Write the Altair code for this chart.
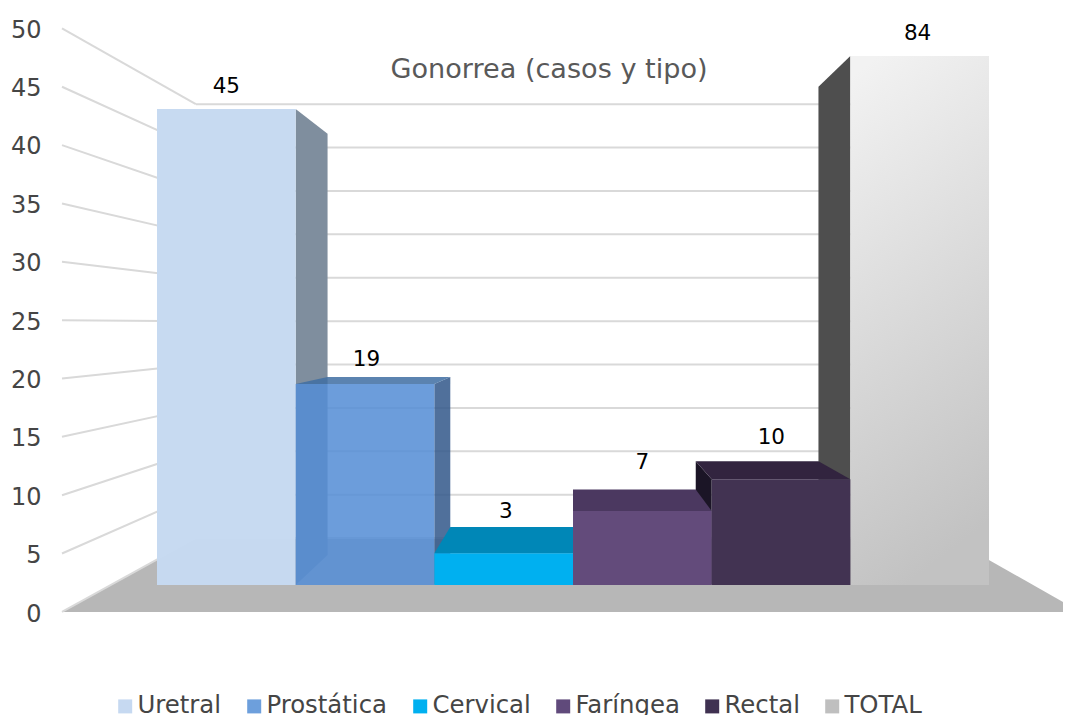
import altair as alt
import pandas as pd

# ---- data ----
categories = ["Uretral", "Prostática", "Cervical", "Faríngea", "Rectal", "TOTAL"]
values = [45, 19, 3, 7, 10, 84]
axis_ticks = [0, 5, 10, 15, 20, 25, 30, 35, 40, 45, 50]

# ---- styles ----
front_colors = ["#c6d9f1", "#548dd5", "#00b0f0", "#634b7b", "#423352", "#c8c8c8"]
legend_colors = ["#c6d9f1", "#6d9fdc", "#00b0f0", "#604a7b", "#3f3151", "#bfbfbf"]
side_colors = ["#7f8e9e", "#33598b", "#0087b7", "#4b3860", "#1b1526", "#4e4e4e"]
top_colors = ["#7f8e9e", "#406fa3", "#0087b7", "#4b3860", "#32243f", "#4e4e4e"]
front_opacity = [0.98, 0.86, 1, 1, 1, 1]
label_gap_px = [24, 26, 43, 50, 43, 24]
label_shift = [0.0, 0.01, 0.015, 0.0, -0.07, -0.015]
FONT = "DejaVu Sans"

# ---- projection (in scale units: x = category slot, y = axis value) ----
AX_PX = 11.68          # axis pixels per value unit
V_MAX = 50
FRONT_UNIT = 10.58 / AX_PX
FRONT_BASE = 27 / AX_PX
VP_X, VP_Y = 3.0, 288 / AX_PX
K_BAR, K_BACK, K_FRONT = 0.885, 0.82, 1.103
WALL_L, WALL_R = -0.317, 6.317
WALL_L_FRONT = -0.341


def u(v):
    return FRONT_BASE + FRONT_UNIT * v


def px(s, k):
    return VP_X + k * (s - VP_X)


def py(y, k):
    return VP_Y + k * (y - VP_Y)


W, H = 1055, 707
x_scale = alt.Scale(domain=[(8 - 157) / 138.67, (8 + W - 157) / 138.67], nice=False, zero=False)
y_scale = alt.Scale(domain=[(612 - (8 + H)) / AX_PX, (612 - 8) / AX_PX], nice=False, zero=False)
y_axis = alt.Axis(values=axis_ticks, domain=False, ticks=False, grid=False, offset=-33,
                  labelPadding=0, labelFontSize=24, labelOffset=2, labelColor="#454545", labelFont=FONT, title=None)


def X(f="x"):
    return alt.X(f"{f}:Q", scale=x_scale, axis=None)


def Y(f="y"):
    return alt.Y(f"{f}:Q", scale=y_scale, axis=y_axis)


layers = []

# invisible layer carries the legend
legend_df = pd.DataFrame({"cat": categories, "x": [i + 0.5 for i in range(6)], "y": values})
layers.append(
    alt.Chart(legend_df).mark_square(size=0, opacity=1, filled=True).encode(
        x=X(),
        y=Y(),
        color=alt.Color("cat:N", scale=alt.Scale(domain=categories, range=legend_colors), legend=alt.Legend(
            orient="none", legendX=105, legendY=686, direction="horizontal", columns=6, title=None,
            symbolType="square", symbolSize=196, symbolStrokeWidth=0, symbolOpacity=1,
            labelFontSize=24.4, labelColor="#454545", labelFont=FONT, labelOffset=0,
            columnPadding=20, padding=0)),
    )
)

# floor
floor_df = pd.DataFrame({
    "y": [py(u(0), K_FRONT), py(u(0), K_BACK)],
    "x": [px(WALL_L_FRONT, K_FRONT), px(WALL_L, K_BACK)],
    "x2": [px(WALL_R, K_FRONT), px(WALL_R, K_BACK)],
})
layers.append(alt.Chart(floor_df).mark_area(orient="horizontal", color="#b7b7b7").encode(
    y=Y(), x=X(), x2="x2:Q"))

# grid lines: left wall and back wall
rows = []
for v in axis_ticks:
    rows.append(dict(x=px(WALL_L_FRONT, K_FRONT), x2=px(WALL_L, K_BACK), y=py(u(v), K_FRONT), y2=py(u(v), K_BACK)))
    rows.append(dict(x=px(WALL_L, K_BACK), x2=px(WALL_R, K_BACK), y=py(u(v), K_BACK), y2=py(u(v), K_BACK)))
layers.append(alt.Chart(pd.DataFrame(rows)).mark_rule(color="#d9d9d9", strokeWidth=2).encode(
    x=X(), x2="x2:Q", y=Y(), y2="y2:Q"))

# bars, painted from the outside towards the vanishing point
for i in [0, 5, 1, 4, 2, 3]:
    s0, s1 = float(i), float(i + 1)
    top = u(min(values[i], V_MAX))
    base = u(0)
    # side face
    edge = s1 if s1 < VP_X else (s0 if s0 > VP_X else None)
    if edge is not None:
        df = pd.DataFrame({
            "x": [px(edge, 1), px(edge, K_BAR)],
            "y": [py(top, 1), py(top, K_BAR)],
            "y2": [py(base, 1), py(base, K_BAR)],
        })
        layers.append(alt.Chart(df).mark_area(color=side_colors[i], opacity=front_opacity[i] if i == 1 else 1).encode(
            x=X(), y=Y(), y2="y2:Q"))
    # top face, visible when below the eye line
    if top < VP_Y:
        df = pd.DataFrame({
            "y": [py(top, 1), py(top, K_BAR)],
            "x": [px(s0, 1), px(s0, K_BAR)],
            "x2": [px(s1, 1), px(s1, K_BAR)],
        })
        layers.append(alt.Chart(df).mark_area(orient="horizontal", color=top_colors[i],
                                              opacity=front_opacity[i] if i == 1 else 1).encode(
            y=Y(), x=X(), x2="x2:Q"))
    # front face
    df = pd.DataFrame({"x": [s0], "x2": [s1], "y": [top], "y2": [base]})
    if categories[i] == "TOTAL":
        fill = alt.Gradient(gradient="linear", x1=0.2, y1=0, x2=0.4, y2=1, stops=[
            alt.GradientStop(color="#f2f2f2", offset=0), alt.GradientStop(color="#c2c2c2", offset=1)])
    else:
        fill = front_colors[i]
    layers.append(alt.Chart(df).mark_rect(color=fill, opacity=front_opacity[i]).encode(
        x=X(), x2="x2:Q", y=Y(), y2="y2:Q"))

# value labels
lab = pd.DataFrame({
    "x": [i + 0.5 + label_shift[i] for i in range(6)],
    "y": [u(min(v, V_MAX)) + g / AX_PX for v, g in zip(values, label_gap_px)],
    "t": [str(v) for v in values],
})
layers.append(alt.Chart(lab).mark_text(fontSize=21.5, color="#000000", font=FONT, baseline="middle", dy=2).encode(
    x=X(), y=Y(), text="t:N"))

# title
title_df = pd.DataFrame({"x": [(549 - 157) / 138.67], "y": [(612 - 69) / AX_PX], "t": ["Gonorrea (casos y tipo)"]})
layers.append(alt.Chart(title_df).mark_text(fontSize=27.1, color="#595959", font=FONT, baseline="middle", dy=1).encode(
    x=X(), y=Y(), text="t:N"))

chart = alt.layer(*layers).properties(
    width=W, height=H, padding=0, autosize=alt.AutoSizeParams(type="none")
).configure_view(stroke=None)

chart.save("out.html", embed_options={"renderer": "svg", "actions": False})
